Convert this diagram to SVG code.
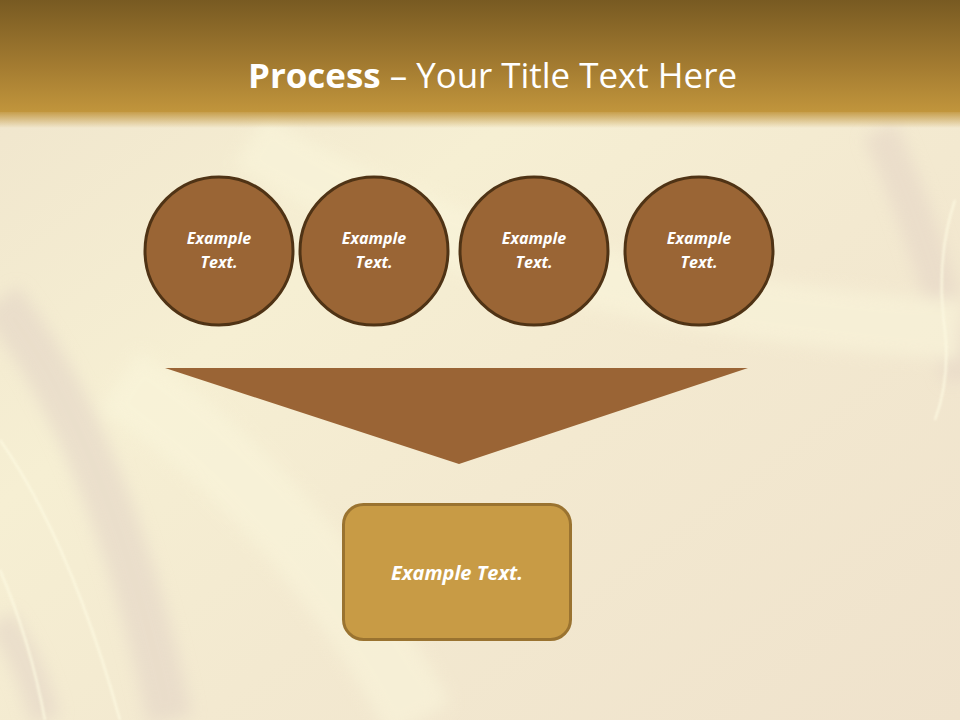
<svg xmlns="http://www.w3.org/2000/svg" width="960" height="720" viewBox="0 0 960 720">
<defs>
<linearGradient id="hdr" x1="0" y1="0" x2="0" y2="1">
<stop offset="0" stop-color="#785a22"/>
<stop offset="0.6" stop-color="#a47c31"/>
<stop offset="1" stop-color="#c1953c"/>
</linearGradient>
<linearGradient id="bg" x1="0" y1="0" x2="1" y2="1">
<stop offset="0" stop-color="#efe4cc"/>
<stop offset="0.35" stop-color="#f6efd3"/>
<stop offset="0.6" stop-color="#f3e9d0"/>
<stop offset="1" stop-color="#efe2cc"/>
</linearGradient>
<linearGradient id="fade" x1="0" y1="0" x2="0" y2="1">
<stop offset="0" stop-color="#c1953c"/>
<stop offset="1" stop-color="#c1953c" stop-opacity="0"/>
</linearGradient>
<filter id="blur" x="-20%" y="-20%" width="140%" height="140%"><feGaussianBlur stdDeviation="8"/></filter>
<filter id="blur2" x="-20%" y="-20%" width="140%" height="140%"><feGaussianBlur stdDeviation="1.2"/></filter>
<style>
.t{font-family:"Open Sans","Liberation Sans",sans-serif;fill:#fff}
.c{fill:#9a6535;stroke:#4f3315;stroke-width:3}
.ct{font-family:"Open Sans","Liberation Sans",sans-serif;font-weight:bold;font-style:italic;font-size:16px;fill:#fff;text-anchor:middle}
</style>
</defs>
<rect width="960" height="720" fill="url(#bg)"/>
<g filter="url(#blur)" fill="none" opacity="0.55">
<path d="M0 300 Q110 440 170 720" stroke="#e2d3c6" stroke-width="45"/>
<path d="M0 620 Q30 660 45 720" stroke="#e2d3c6" stroke-width="30"/>
<path d="M880 130 Q945 280 960 380" stroke="#e4d4c6" stroke-width="35"/>
<path d="M250 140 Q500 300 960 330" stroke="#faf6dc" stroke-width="60"/>
<path d="M120 380 Q300 500 420 720" stroke="#faf6dc" stroke-width="70"/>
</g>
<g filter="url(#blur2)" fill="none" stroke="#fdfae2" stroke-width="2" opacity="0.9">
<path d="M0 440 Q70 540 120 720"/>
<path d="M0 570 Q30 640 45 720"/>
<path d="M955 200 Q935 260 945 330 Q950 380 935 420"/>
</g>
<rect x="0" y="110" width="960" height="18" fill="url(#fade)"/>
<rect x="0" y="0" width="960" height="112" fill="url(#hdr)"/>
<text class="t" x="248" y="88" font-size="34" textLength="489" lengthAdjust="spacingAndGlyphs"><tspan font-weight="bold">Process</tspan> – Your Title Text Here</text>
<g id="connectors">
<polygon points="165,368 748,368 459,464" fill="#9a6435"/>
</g>
<g id="node1"><circle class="c" cx="219" cy="251" r="74"/><text class="ct" x="219" y="244">Example</text><text class="ct" x="219" y="268">Text.</text></g>
<g id="node2"><circle class="c" cx="374" cy="251" r="74"/><text class="ct" x="374" y="244">Example</text><text class="ct" x="374" y="268">Text.</text></g>
<g id="node3"><circle class="c" cx="534" cy="251" r="74"/><text class="ct" x="534" y="244">Example</text><text class="ct" x="534" y="268">Text.</text></g>
<g id="node4"><circle class="c" cx="699" cy="251" r="74"/><text class="ct" x="699" y="244">Example</text><text class="ct" x="699" y="268">Text.</text></g>
<g id="node5"><rect x="343.5" y="504.5" width="227" height="135" rx="20" fill="#c89b45" stroke="#9a7330" stroke-width="3"/><text class="ct" x="457" y="580" style="font-size:20px">Example Text.</text></g>
</svg>
